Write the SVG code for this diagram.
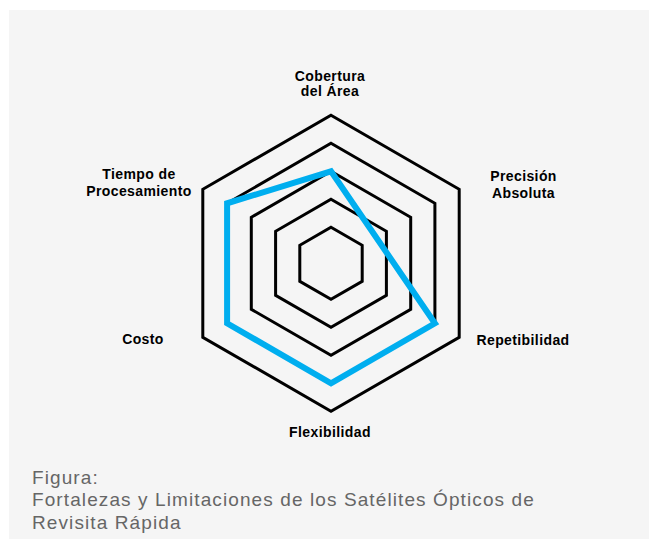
<svg xmlns="http://www.w3.org/2000/svg" width="649" height="539" viewBox="0 0 649 539">
<style>
.ring{fill:none;stroke:#000;stroke-width:3;stroke-linejoin:miter}
.data{fill:none;stroke:#00aeef;stroke-width:6;stroke-linejoin:miter}
.lbl{font-family:"Liberation Sans",Arial,sans-serif;font-weight:bold;font-size:14px;letter-spacing:0.4px;fill:#000;text-anchor:middle}
.cap{font-family:"Liberation Sans",Arial,sans-serif;font-size:19px;letter-spacing:1.1px;fill:#666}
</style>
<rect x="0" y="0" width="649" height="539" fill="#ffffff"/>
<rect x="9" y="10" width="640" height="529" fill="#f5f5f5"/>
<g id="grid">
<polygon class="ring" points="331,115.3 459.2,189.3 459.2,337.3 331,411.3 202.8,337.3 202.8,189.3"/>
<polygon class="ring" points="331,143.3 434.9,203.3 434.9,323.3 331,383.3 227.1,323.3 227.1,203.3"/>
<polygon class="ring" points="331,171.3 410.7,217.3 410.7,309.3 331,355.3 251.3,309.3 251.3,217.3"/>
<polygon class="ring" points="331,199.3 386.4,231.3 386.4,295.3 331,327.3 275.6,295.3 275.6,231.3"/>
<polygon class="ring" points="331,227.3 362.2,245.3 362.2,281.3 331,299.3 299.8,281.3 299.8,245.3"/>
</g>
<g id="series">
<polygon class="data" points="331,171.3 434.9,323.3 331,383.3 227.1,323.3 227.1,203.3"/>
</g>
<g id="label-cobertura"><text class="lbl" x="330" y="81">Cobertura</text><text class="lbl" x="330" y="96">del Área</text></g>
<g id="label-precision"><text class="lbl" x="523.5" y="181">Precisión</text><text class="lbl" x="523.5" y="197.5">Absoluta</text></g>
<g id="label-repetibilidad"><text class="lbl" x="523" y="345">Repetibilidad</text></g>
<g id="label-flexibilidad"><text class="lbl" x="330" y="437">Flexibilidad</text></g>
<g id="label-costo"><text class="lbl" x="143" y="344">Costo</text></g>
<g id="label-tiempo"><text class="lbl" x="139" y="179">Tiempo de</text><text class="lbl" x="139" y="196">Procesamiento</text></g>
<g id="caption">
<text class="cap" x="32" y="483.5">Figura:</text>
<text class="cap" x="32" y="506">Fortalezas y Limitaciones de los Satélites Ópticos de</text>
<text class="cap" x="32" y="528.5">Revisita Rápida</text>
</g>
</svg>
